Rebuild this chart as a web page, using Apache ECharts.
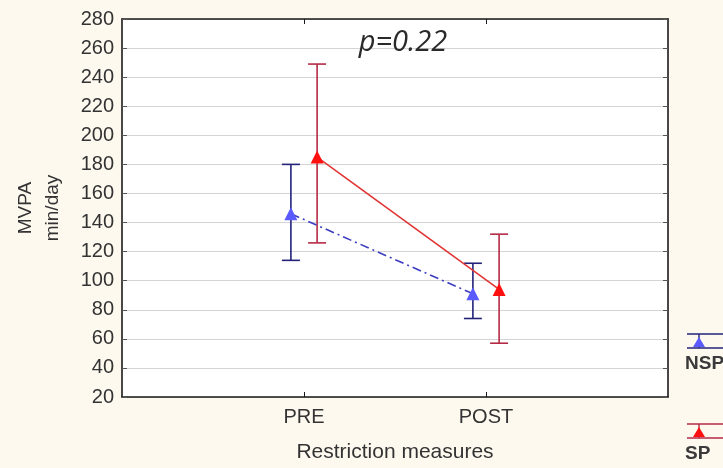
<!DOCTYPE html>
<html>
<head>
<meta charset="utf-8">
<script src="https://cdn.jsdelivr.net/npm/echarts@6/dist/echarts.min.js"></script>
<style>
  html, body { margin: 0; padding: 0; background: #fdf9ef; }
  #chart { width: 723px; height: 468px; }
</style>
</head>
<body>
<div id="chart"></div>
<script>
// categories sit at x = 1, 2 on a 0..3 value axis
const categories = ['PRE', 'POST']
const categoryPos = [1, 2]

const nspMean = [146, 91]
const nspLow = [114, 74]
const nspHigh = [180, 112]

const spMean = [185, 94]
const spLow = [126, 57]
const spHigh = [249, 132]

const yTicks = { min: 20, max: 280, step: 20 }
const pValueText = 'p=0.22'

const NSP_OFFSET = -0.072
const SP_OFFSET = 0.072

const FONT = '"Liberation Sans", Arial, sans-serif'

const chart = echarts.init(document.getElementById('chart'), null, { renderer: 'canvas' })

function meanPoints(means, offset) {
  return means.map((v, i) => [categoryPos[i] + offset, v])
}

function barPoints(low, high, offset) {
  return low.map((v, i) => [categoryPos[i] + offset, v, high[i]])
}

function errorBarSeries(name, low, high, offset, color) {
  return {
    name: name + ' error',
    type: 'custom',
    data: barPoints(low, high, offset),
    z: 2,
    renderItem(params, api) {
      const x = api.value(0)
      const top = api.coord([x, api.value(2)])
      const bottom = api.coord([x, api.value(1)])
      const w = 9
      const style = { stroke: color, lineWidth: 1.6 }
      return {
        type: 'group',
        children: [
          { type: 'line', shape: { x1: top[0], y1: top[1], x2: bottom[0], y2: bottom[1] }, style },
          { type: 'line', shape: { x1: top[0] - w, y1: top[1], x2: top[0] + w, y2: top[1] }, style },
          { type: 'line', shape: { x1: bottom[0] - w, y1: bottom[1], x2: bottom[0] + w, y2: bottom[1] }, style }
        ]
      }
    }
  }
}

function legendIcon(y, barColor, markColor, label) {
  const x0 = 687
  return [
    { type: 'line', shape: { x1: x0, y1: y - 8, x2: 730, y2: y - 8 }, style: { stroke: barColor, lineWidth: 1.6 } },
    { type: 'line', shape: { x1: x0, y1: y + 6, x2: 730, y2: y + 6 }, style: { stroke: barColor, lineWidth: 1.6 } },
    { type: 'line', shape: { x1: x0 + 12, y1: y - 8, x2: x0 + 12, y2: y + 6 }, style: { stroke: barColor, lineWidth: 1.4 } },
    { type: 'polygon', shape: { points: [[x0 + 12, y - 5], [x0 + 6, y + 5], [x0 + 18, y + 5]] }, style: { fill: markColor } },
    { type: 'text', left: x0 - 2, top: y + 12, style: { text: label, font: 'bold 19px ' + FONT, fill: '#3a3a3a' } }
  ]
}

const frameLine = { show: true, onZero: false, lineStyle: { color: '#1a1a1a', width: 1.6 } }

chart.setOption({
  animation: false,
  backgroundColor: '#fdf9ef',
  grid: { left: 122, right: 55, top: 19, bottom: 71, show: true, backgroundColor: '#ffffff', borderWidth: 0 },
  title: {
    text: pValueText,
    left: 398,
    top: 23,
    textAlign: 'center',
    textStyle: { fontFamily: '"Open Sans", sans-serif', fontStyle: 'italic', fontWeight: 'normal', fontSize: 29, color: '#2a2a2a' }
  },
  xAxis: [
    {
      type: 'value',
      min: 0,
      max: 3,
      interval: 1,
      position: 'bottom',
      name: 'Restriction measures',
      nameLocation: 'middle',
      nameGap: 45,
      nameTextStyle: { fontFamily: FONT, fontSize: 21, color: '#333' },
      axisLine: frameLine,
      axisTick: { inside: true, length: 5, customValues: categoryPos, lineStyle: { color: '#1a1a1a' } },
      axisLabel: {
        customValues: categoryPos,
        margin: 10,
        fontFamily: FONT,
        fontSize: 20,
        color: '#333',
        formatter: (v) => categories[categoryPos.indexOf(v)] || ''
      },
      splitLine: { show: false }
    },
    {
      type: 'value',
      min: 0,
      max: 3,
      interval: 1,
      position: 'top',
      axisLine: frameLine,
      axisTick: { inside: true, length: 5, customValues: categoryPos, lineStyle: { color: '#1a1a1a' } },
      axisLabel: { show: false },
      splitLine: { show: false }
    }
  ],
  yAxis: [
    {
      type: 'value',
      min: yTicks.min,
      max: yTicks.max,
      interval: yTicks.step,
      position: 'left',
      name: 'MVPA\nmin/day',
      nameLocation: 'middle',
      nameGap: 56,
      nameRotate: 90,
      nameTextStyle: { fontFamily: FONT, fontSize: 19, color: '#333', lineHeight: 27 },
      axisLine: frameLine,
      axisTick: { inside: true, length: 5, lineStyle: { color: '#555' } },
      axisLabel: { margin: 8, fontFamily: FONT, fontSize: 20, color: '#333' },
      splitLine: { show: true, lineStyle: { color: '#d4d4d4', width: 1 } }
    },
    {
      type: 'value',
      min: yTicks.min,
      max: yTicks.max,
      interval: yTicks.step,
      position: 'right',
      axisLine: frameLine,
      axisTick: { inside: true, length: 5, lineStyle: { color: '#555' } },
      axisLabel: { show: false },
      splitLine: { show: false }
    }
  ],
  series: [
    errorBarSeries('NSP', nspLow, nspHigh, NSP_OFFSET, '#23237a'),
    errorBarSeries('SP', spLow, spHigh, SP_OFFSET, '#b52a45'),
    {
      name: 'NSP',
      type: 'line',
      data: meanPoints(nspMean, NSP_OFFSET),
      z: 3,
      symbol: 'triangle',
      symbolSize: 13,
      itemStyle: { color: '#5a5aff' },
      lineStyle: { color: '#3c3cc0', width: 1.6, type: [9, 4, 2, 4] }
    },
    {
      name: 'SP',
      type: 'line',
      data: meanPoints(spMean, SP_OFFSET),
      z: 3,
      symbol: 'triangle',
      symbolSize: 13,
      itemStyle: { color: '#ff1010' },
      lineStyle: { color: '#e03535', width: 1.6 }
    }
  ],
  graphic: [
    ...legendIcon(342, '#23237a', '#5a5aff', 'NSP'),
    ...legendIcon(432, '#b52a45', '#ff1010', 'SP')
  ]
})
</script>
</body>
</html>
